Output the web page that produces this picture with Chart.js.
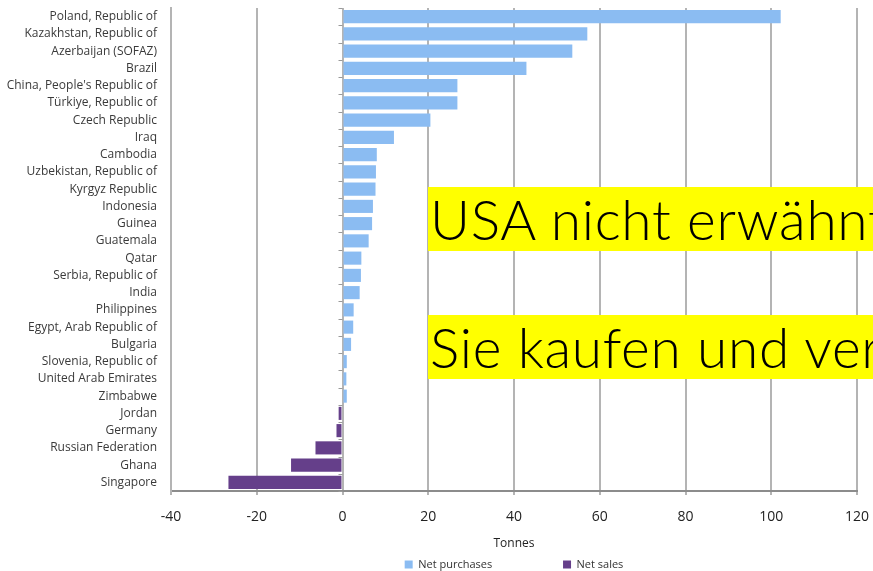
<!DOCTYPE html>
<html>
<head>
<meta charset="utf-8">
<script src="https://cdn.jsdelivr.net/npm/chart.js@4/dist/chart.umd.min.js"></script>
<style>
  html, body { margin: 0; padding: 0; background: #fff; overflow: hidden; }
  #wrap { position: relative; width: 873px; height: 580px; }
  .note {
    position: absolute; left: 428px; width: 460px; height: 64px;
    background: #ffff00; color: #000; white-space: nowrap; overflow: hidden;
    font-family: Lato, "Open Sans", sans-serif; font-weight: 300; font-size: 55px; line-height: 64px;
    letter-spacing: 0.7px; padding-left: 2px; box-sizing: border-box;
  }
</style>
</head>
<body>
<div id="wrap">
  <canvas id="c"></canvas>
  <div class="note" style="top:187px;">USA nicht erwähnt</div>
  <div class="note" style="top:315px;">Sie kaufen und verkaufen</div>
</div>
<script>
const categories = [
  "Poland, Republic of", "Kazakhstan, Republic of", "Azerbaijan (SOFAZ)", "Brazil",
  "China, People's Republic of", "Türkiye, Republic of", "Czech Republic", "Iraq",
  "Cambodia", "Uzbekistan, Republic of", "Kyrgyz Republic", "Indonesia", "Guinea",
  "Guatemala", "Qatar", "Serbia, Republic of", "India", "Philippines",
  "Egypt, Arab Republic of", "Bulgaria", "Slovenia, Republic of", "United Arab Emirates",
  "Zimbabwe", "Jordan", "Germany", "Russian Federation", "Ghana", "Singapore"
];
const netPurchases = [
  102.2, 57.1, 53.6, 42.9, 26.8, 26.8, 20.5, 12.0, 8.0, 7.8, 7.7, 7.1, 6.9,
  6.1, 4.4, 4.3, 4.0, 2.6, 2.5, 2.0, 1.0, 0.9, 1.0,
  null, null, null, null, null
];
const netSales = [
  null, null, null, null, null, null, null, null, null, null, null, null, null,
  null, null, null, null, null, null, null, null, null, null,
  -0.9, -1.4, -6.3, -12.0, -26.6
];
const xTicks = { min: -40, max: 120, step: 20 };
const axisTitle = "Tonnes";

const zeroTicks = {
  id: 'zeroTicks',
  afterDatasetsDraw(chart) {
    const xs = chart.scales.x, ys = chart.scales.y, ctx = chart.ctx;
    const x0 = xs.getPixelForValue(0);
    const n = categories.length;
    const step = ys.getPixelForTick(1) - ys.getPixelForTick(0);
    ctx.save();
    ctx.strokeStyle = '#9a9a9a';
    ctx.lineWidth = 1;
    for (let i = 0; i <= n; i++) {
      const y = ys.getPixelForTick(0) - step / 2 + i * step;
      ctx.beginPath();
      ctx.moveTo(x0 - 4, Math.round(y) + 0.5);
      ctx.lineTo(x0, Math.round(y) + 0.5);
      ctx.stroke();
    }
    ctx.restore();
  }
};

new Chart(document.getElementById('c'), {
  type: 'bar',
  data: {
    labels: categories,
    datasets: [
      { label: 'Net purchases', data: netPurchases, backgroundColor: '#8bbcf2',
        barPercentage: 0.76, categoryPercentage: 1.0 },
      { label: 'Net sales', data: netSales, backgroundColor: '#653f8a',
        barPercentage: 0.76, categoryPercentage: 1.0 }
    ]
  },
  options: {
    indexAxis: 'y',
    responsive: true,
    maintainAspectRatio: false,
    animation: false,
    layout: { padding: { top: 8, right: 16, left: 0, bottom: 0 } },
    scales: {
      x: {
        stacked: true,
        min: xTicks.min, max: xTicks.max,
        ticks: { stepSize: xTicks.step, color: '#222', padding: 14,
                 font: { family: 'Open Sans', size: 14 } },
        grid: { color: '#b4b4b4', lineWidth: 2, tickLength: 4, drawTicks: true },
        border: { display: true, color: '#8c8c8c', width: 2 },
        title: { display: true, text: axisTitle, color: '#222',
                 font: { family: 'Open Sans', size: 12 }, padding: { top: 4, bottom: 0 } },
        afterFit(scale) { scale.height = 60; scale.paddingLeft = 0; scale.paddingRight = 0; }
      },
      y: {
        stacked: true,
        ticks: { color: '#3a3a3a', padding: 6, autoSkip: false,
                 font: { family: 'Open Sans', size: 12 } },
        grid: { display: false },
        border: { display: true, color: '#b4b4b4', width: 2 },
        afterFit(scale) { scale.width = 171; scale.paddingTop = 0; scale.paddingBottom = 0; }
      }
    },
    plugins: {
      tooltip: { enabled: false },
      legend: {
        position: 'bottom',
        fullSize: false,
        labels: {
          boxWidth: 8, boxHeight: 8, padding: 8, color: '#333',
          font: { family: 'Open Sans', size: 11 },
          generateLabels(chart) {
            const items = Chart.defaults.plugins.legend.labels.generateLabels(chart);
            items.forEach(it => { it.lineWidth = 0; });
            if (items[0]) items[0].text = items[0].text + '                      ';
            return items;
          }
        }
      }
    }
  },
  plugins: [zeroTicks]
});
</script>
</body>
</html>
